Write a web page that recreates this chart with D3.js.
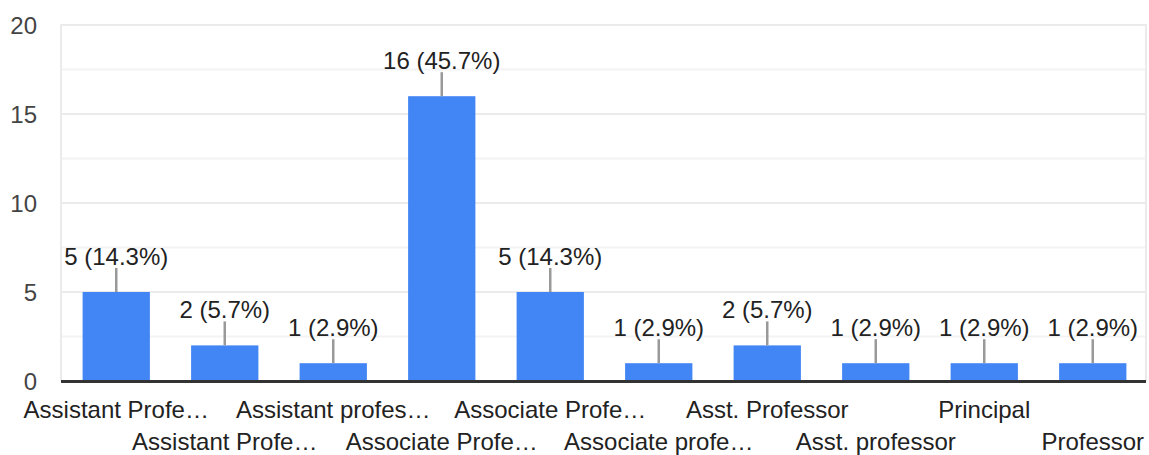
<!DOCTYPE html>
<html>
<head>
<meta charset="utf-8">
<script src="https://cdn.jsdelivr.net/npm/d3@7"></script>
<style>
  html, body { margin: 0; padding: 0; background: #fff; }
  svg { display: block; font-family: "Liberation Sans", Arial, sans-serif; }
</style>
</head>
<body>
<svg id="chart" width="1149" height="455"></svg>
<script>
const categories = [
  "Assistant Profe…", "Assistant Profe…", "Assistant profes…", "Associate Profe…",
  "Associate Profe…", "Associate profe…", "Asst. Professor", "Asst. professor",
  "Principal", "Professor"
];
const counts = [5, 2, 1, 16, 5, 1, 2, 1, 1, 1];
const percents = ["14.3%", "5.7%", "2.9%", "45.7%", "14.3%", "2.9%", "5.7%", "2.9%", "2.9%", "2.9%"];
const yTicks = [0, 5, 10, 15, 20];
const yMinorTicks = [2.5, 7.5, 12.5, 17.5];

const svg = d3.select("#chart");
const plotLeft = 61, plotRight = 1146, plotTop = 25, plotBottom = 381;

const x = d3.scaleBand()
  .domain(d3.range(categories.length))
  .range([plotLeft + 1, plotRight + 1])
  .paddingInner(0.38)
  .paddingOuter(0.19);

const y = d3.scaleLinear().domain([0, 20]).range([plotBottom, plotTop]);

// minor grid
svg.append("g").selectAll("line").data(yMinorTicks).join("line")
  .attr("x1", plotLeft).attr("x2", plotRight)
  .attr("y1", d => y(d)).attr("y2", d => y(d))
  .attr("stroke", "#f3f3f3").attr("stroke-width", 2);

// major grid
svg.append("g").selectAll("line").data(yTicks.filter(d => d > 0)).join("line")
  .attr("x1", plotLeft).attr("x2", plotRight)
  .attr("y1", d => y(d)).attr("y2", d => y(d))
  .attr("stroke", "#ebebeb").attr("stroke-width", 2);

// vertical borders
svg.append("line").attr("x1", plotLeft).attr("x2", plotLeft).attr("y1", plotTop - 1).attr("y2", plotBottom)
  .attr("stroke", "#ebebeb").attr("stroke-width", 2);
svg.append("line").attr("x1", plotRight).attr("x2", plotRight).attr("y1", plotTop - 1).attr("y2", plotBottom)
  .attr("stroke", "#ebebeb").attr("stroke-width", 2);

// y tick labels
svg.append("g").selectAll("text").data(yTicks).join("text")
  .attr("x", 37).attr("y", d => y(d))
  .attr("dy", "0.36em")
  .attr("text-anchor", "end")
  .attr("font-size", 24)
  .attr("fill", "#444")
  .text(d => d);

// bars
svg.append("g").selectAll("rect").data(counts).join("rect")
  .attr("x", (d, i) => x(i))
  .attr("width", x.bandwidth())
  .attr("y", d => y(d))
  .attr("height", d => plotBottom - y(d))
  .attr("fill", "#4285f4");

// leader lines
svg.append("g").selectAll("line").data(counts).join("line")
  .attr("x1", (d, i) => x(i) + x.bandwidth() / 2)
  .attr("x2", (d, i) => x(i) + x.bandwidth() / 2)
  .attr("y1", d => y(d))
  .attr("y2", d => y(d) - 24)
  .attr("stroke", "#999").attr("stroke-width", 2.5);

// value labels
svg.append("g").selectAll("text").data(counts).join("text")
  .attr("x", (d, i) => x(i) + x.bandwidth() / 2)
  .attr("y", d => y(d) - 27)
  .attr("text-anchor", "middle")
  .attr("font-size", 24)
  .attr("fill", "#222")
  .text((d, i) => `${d} (${percents[i]})`);

// baseline
svg.append("line").attr("x1", plotLeft).attr("x2", plotRight)
  .attr("y1", y(0) + 0.5).attr("y2", y(0) + 0.5)
  .attr("stroke", "#333").attr("stroke-width", 3);

// category labels (staggered)
svg.append("g").selectAll("text").data(categories).join("text")
  .attr("x", (d, i) => x(i) + x.bandwidth() / 2)
  .attr("y", (d, i) => i % 2 === 0 ? 418 : 450)
  .attr("text-anchor", "middle")
  .attr("font-size", 24)
  .attr("fill", "#222")
  .text(d => d);
</script>
</body>
</html>
